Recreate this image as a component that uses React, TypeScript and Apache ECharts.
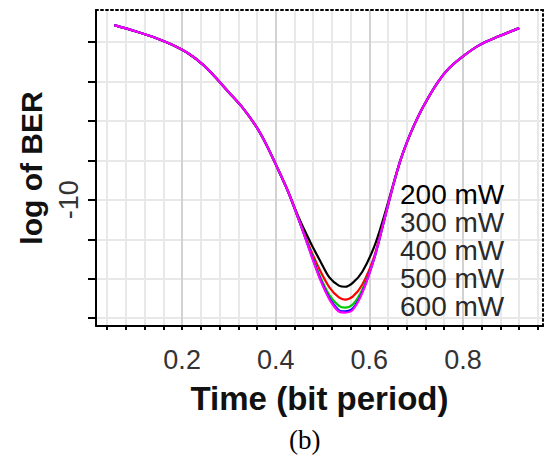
import React, { useEffect, useRef } from "react";
import * as echarts from "echarts";

// Time (bit period)
const TIME = [0.055, 0.10, 0.145, 0.18, 0.215, 0.245, 0.27, 0.30, 0.33, 0.36, 0.38, 0.40, 0.425, 0.45, 0.475, 0.495, 0.515, 0.535, 0.548, 0.565, 0.585, 0.61, 0.63, 0.65, 0.665, 0.68, 0.695, 0.715, 0.745, 0.77, 0.80, 0.835, 0.875, 0.92];

// log of BER per launch power
const BER_200 = [-1.14, -1.45, -1.8, -2.15, -2.6, -3.15, -3.75, -4.55, -5.35, -6.35, -7.2, -8.2, -9.5, -10.95, -12.2, -13.1, -13.95, -14.35, -14.41, -14.2, -13.65, -12.4, -10.95, -9.3, -8.1, -7.1, -6.25, -5.28, -4.08, -3.33, -2.72, -2.15, -1.72, -1.29];
const BER_300 = [-1.14, -1.45, -1.8, -2.15, -2.6, -3.15, -3.75, -4.55, -5.35, -6.35, -7.2, -8.2, -9.5, -11.05, -12.55, -13.6, -14.45, -14.95, -15.06, -14.9, -14.3, -12.9, -11.15, -9.35, -8.1, -7.1, -6.25, -5.28, -4.08, -3.33, -2.72, -2.15, -1.72, -1.29];
const BER_400 = [-1.14, -1.45, -1.8, -2.15, -2.6, -3.15, -3.75, -4.55, -5.35, -6.35, -7.2, -8.2, -9.5, -11.05, -12.65, -13.9, -14.85, -15.38, -15.47, -15.3, -14.55, -13.0, -11.2, -9.35, -8.1, -7.1, -6.25, -5.28, -4.08, -3.33, -2.72, -2.15, -1.72, -1.29];
const BER_500 = [-1.14, -1.45, -1.8, -2.15, -2.6, -3.15, -3.75, -4.55, -5.35, -6.35, -7.2, -8.2, -9.5, -11.05, -12.72, -14.0, -15.0, -15.6, -15.66, -15.5, -14.68, -13.0, -11.2, -9.35, -8.1, -7.1, -6.25, -5.28, -4.08, -3.33, -2.72, -2.15, -1.72, -1.29];
const BER_600 = [-1.14, -1.45, -1.8, -2.15, -2.6, -3.15, -3.75, -4.55, -5.35, -6.35, -7.2, -8.2, -9.5, -11.05, -12.75, -14.05, -15.06, -15.67, -15.72, -15.57, -14.71, -13.0, -11.2, -9.35, -8.1, -7.1, -6.25, -5.28, -4.08, -3.33, -2.72, -2.15, -1.72, -1.29];

const SERIES_NAMES = ["200 mW", "300 mW", "400 mW", "500 mW", "600 mW"];
const SERIES_VALUES = [BER_200, BER_300, BER_400, BER_500, BER_600];
const SERIES_COLORS = ["#000000", "#ff0000", "#00cc00", "#0000ff", "#ff00ff"];

const X_LABELS = [0.2, 0.4, 0.6, 0.8];
const X_GRID = [0.04, 0.08, 0.12, 0.16, 0.2, 0.24, 0.28, 0.32, 0.36, 0.4, 0.44, 0.48, 0.52, 0.56, 0.6, 0.64, 0.68, 0.72, 0.76, 0.8, 0.84, 0.88, 0.92, 0.96];
const Y_TICKS = [-16, -14, -12, -10, -8, -6, -4, -2];
const Y_LABELS = [-10];

const FONT = "'Liberation Sans', Arial, sans-serif";

export default function App() {
  const ref = useRef<HTMLDivElement>(null);
  useEffect(() => {
    if (!ref.current) return;
    const chart = echarts.init(ref.current, undefined, { renderer: "svg" });
    const series = SERIES_NAMES.map((name, i) => ({
      name,
      type: "line",
      xAxisIndex: 0,
      yAxisIndex: 0,
      data: TIME.map((t, j) => [t, SERIES_VALUES[i][j]]),
      showSymbol: false,
      smooth: 0.3,
      lineStyle: { color: SERIES_COLORS[i], width: 2.2 },
      itemStyle: { color: SERIES_COLORS[i] },
      z: 3 + i,
    }));
    chart.setOption({
      animation: false,
      backgroundColor: "#ffffff",
      grid: { left: 96, top: 10, right: 5, bottom: 132, containLabel: false },
      legend: {
        orient: "vertical",
        left: 389,
        top: 175,
        itemGap: 0,
        itemWidth: 0,
        itemHeight: 0,
        selectedMode: false,
        data: SERIES_NAMES.map((n, i) => ({
          name: n,
          textStyle: { color: i === 0 ? "#000" : "#2a2a2a" },
        })),
        textStyle: { fontSize: 28, lineHeight: 27, fontFamily: FONT },
      },
      xAxis: [
        {
          type: "value",
          position: "bottom",
          min: 0.016,
          max: 0.971,
          name: "Time (bit period)",
          nameLocation: "middle",
          nameGap: 56,
          nameTextStyle: { fontSize: 33, fontWeight: "bold", color: "#111", fontFamily: FONT },
          axisLine: { show: true, onZero: false, lineStyle: { color: "#000", width: 2 } },
          axisTick: { show: true, customValues: X_GRID, length: 4, lineStyle: { color: "#000", width: 2 } },
          axisLabel: { customValues: X_LABELS, fontSize: 27, color: "#333", fontFamily: FONT, margin: 20 },
          splitLine: { show: true, lineStyle: { color: "#e8e8e8", width: 2 } },
        },
        {
          type: "value",
          position: "top",
          min: 0.016,
          max: 0.971,
          axisLine: { show: true, onZero: false, lineStyle: { color: "#000", width: 2, type: [2, 3] } },
          axisTick: { show: false, customValues: X_LABELS },
          axisLabel: { show: false },
          splitLine: { show: true, lineStyle: { color: "#d2d2d2", width: 2 } },
        },
      ],
      yAxis: [
        {
          type: "value",
          position: "left",
          min: -16.4,
          max: -0.37,
          name: "log of BER",
          nameLocation: "middle",
          nameGap: 50,
          nameRotate: 90,
          nameTextStyle: { fontSize: 30, fontWeight: "bold", color: "#111", fontFamily: FONT },
          axisLine: { show: true, onZero: false, lineStyle: { color: "#000", width: 2 } },
          axisTick: { show: true, customValues: Y_TICKS, length: 8, lineStyle: { color: "#000", width: 2 } },
          axisLabel: { customValues: Y_LABELS, rotate: 90, fontSize: 27, color: "#333", fontFamily: FONT, margin: 14 },
          splitLine: { show: true, lineStyle: { color: "#e8e8e8", width: 2 } },
        },
        {
          type: "value",
          position: "right",
          min: -16.4,
          max: -0.37,
          axisLine: { show: true, onZero: false, lineStyle: { color: "#000", width: 2, type: [2, 3] } },
          axisTick: { show: false },
          axisLabel: { show: false },
          splitLine: { show: false },
        },
      ],
      graphic: [
        {
          type: "text",
          left: 289,
          top: 426,
          style: { text: "(b)", fontSize: 27, fontFamily: "'Liberation Serif', 'Times New Roman', serif", fill: "#000" },
        },
      ],
      series,
    });
    return () => chart.dispose();
  }, []);
  return (
    <div
      ref={ref}
      style={{ position: "fixed", left: 0, top: 0, width: 548, height: 458, background: "#fff" }}
    />
  );
}
